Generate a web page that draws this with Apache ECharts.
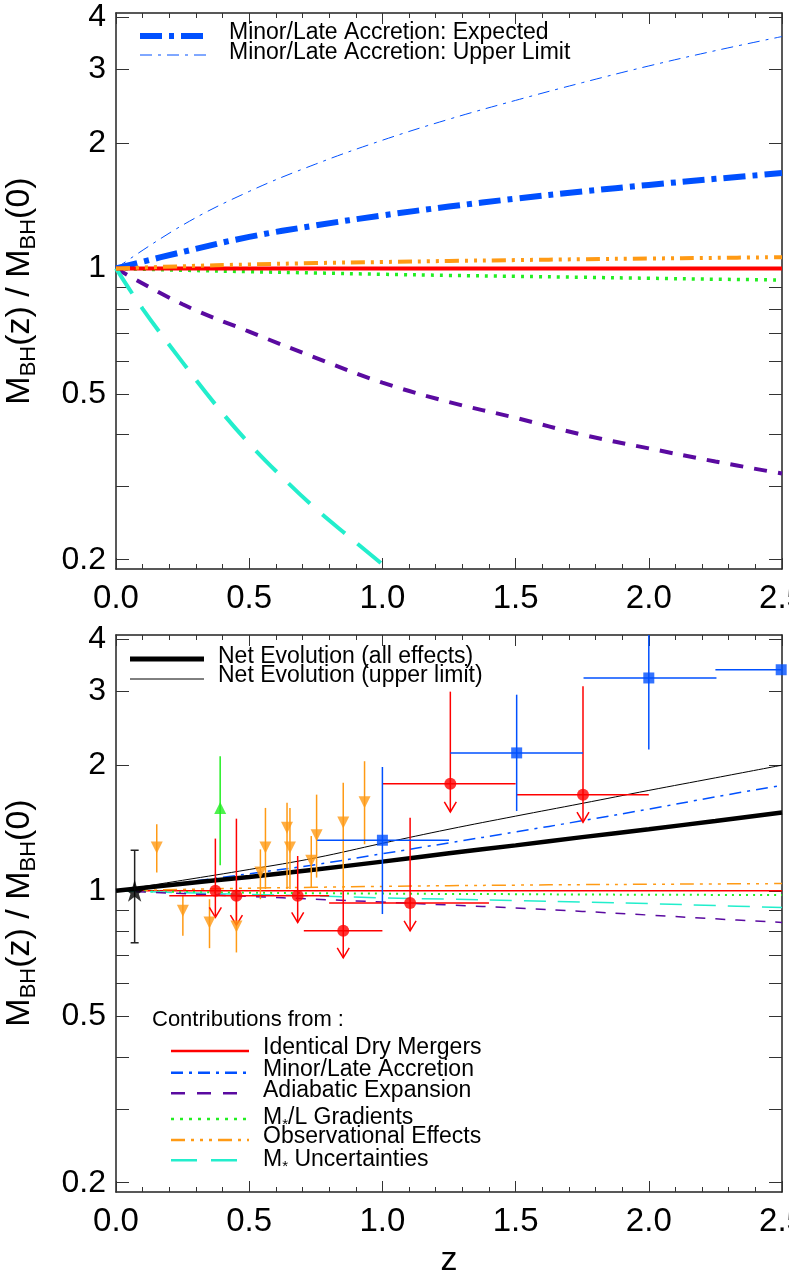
<!DOCTYPE html>
<html><head><meta charset="utf-8">
<script src="https://cdn.jsdelivr.net/npm/echarts@6/dist/echarts.min.js"></script>
<style>html,body{margin:0;padding:0;background:#fff;overflow:hidden}#c{width:789px;height:1285px}</style>
</head><body><div id="c"></div>
<script>
// ---------------- data ----------------
const zGrid = [0, 0.25, 0.5, 0.75, 1.0, 1.25, 1.5, 1.75, 2.0, 2.25, 2.5];
const zCyanTop = [0, 0.1, 0.25, 0.375, 0.5, 0.625, 0.75, 0.875, 1.0];

// top panel
const topExpected = [1.0, 1.095, 1.19, 1.268, 1.34, 1.407, 1.47, 1.529, 1.586, 1.64, 1.693];
const topUpper    = [1.0, 1.27, 1.53, 1.78, 2.03, 2.28, 2.53, 2.79, 3.06, 3.33, 3.60];
const topObs      = [1.0, 1.012, 1.022, 1.03, 1.036, 1.042, 1.047, 1.052, 1.056, 1.06, 1.064];
const topMerger   = [1.0, 1.0, 1.0, 1.0, 1.0, 1.0, 1.0, 1.0, 1.0, 1.0, 1.0];
const topGrad     = [1.0, 0.99, 0.982, 0.975, 0.968, 0.962, 0.957, 0.952, 0.947, 0.942, 0.938];
const topAdiab    = [1.0, 0.82, 0.705, 0.61, 0.532, 0.478, 0.438, 0.399, 0.37, 0.344, 0.322];
const topMstar    = [1.0, 0.80, 0.595, 0.47, 0.38, 0.315, 0.265, 0.227, 0.195];

// bottom panel
const netAll    = [1.0, 1.04, 1.08, 1.125, 1.175, 1.23, 1.285, 1.345, 1.405, 1.47, 1.54];
const netUpper  = [1.0, 1.06, 1.125, 1.20, 1.30, 1.405, 1.51, 1.62, 1.74, 1.865, 2.0];
const botMinor  = [1.0, 1.047, 1.099, 1.156, 1.227, 1.303, 1.384, 1.472, 1.57, 1.679, 1.79];
const botObs    = [1.0, 1.008, 1.015, 1.02, 1.025, 1.029, 1.032, 1.035, 1.037, 1.039, 1.041];
const botMerger = [1.0, 1.0, 1.0, 1.0, 1.0, 1.0, 1.0, 1.0, 1.0, 1.0, 1.0];
const botGrad   = [1.0, 0.994, 0.99, 0.987, 0.985, 0.983, 0.982, 0.98, 0.979, 0.978, 0.977];
const botAdiab  = [1.0, 0.985, 0.97, 0.955, 0.94, 0.925, 0.91, 0.893, 0.875, 0.857, 0.84];
const botMstar  = [1.0, 0.99, 0.98, 0.972, 0.962, 0.955, 0.948, 0.94, 0.932, 0.922, 0.912];

// observations
const orangeZ   = [0.153, 0.251, 0.351, 0.452, 0.542, 0.561, 0.642, 0.653, 0.733, 0.753, 0.853, 0.933];
const orangeVal = [1.27, 0.896, 0.84, 0.822, 1.106, 1.27, 1.417, 1.27, 1.18, 1.359, 1.457, 1.631];
const orangeHi  = [1.443, 0.973, 0.955, 1.01, 1.257, 1.58, 1.626, 1.58, 1.353, 1.70, 1.815, 2.044];
const orangeLo  = [1.106, 0.781, 0.729, 0.712, 0.955, 1.01, 1.01, 1.01, 1.019, 1.076, 1.0, 1.293];

const greenZ = [0.391], greenVal = [1.58], greenHi = [2.10], greenLo = [1.152];

const redZ   = [0.373, 0.452, 0.682, 0.853, 1.104, 1.255, 1.753];
const redVal = [1.0, 0.973, 0.973, 0.802, 0.935, 1.806, 1.70];
const redTop = [1.334, 1.489, 1.212, 1.0, 1.497, 3.0, 3.09];
const redTip = [0.864, 0.828, 0.84, 0.691, 0.802, 1.545, 1.46];
const redZlo = [null, 0.2, null, 0.705, 0.8, 1.0, 1.505];
const redZhi = [null, 0.8, null, 1.0, 1.4, 1.5, 2.0];

const blueZ   = [1.0, 1.504, 2.0, 2.497];
const blueVal = [1.322, 2.14, 3.235, 3.385];
const blueLo  = [0.88, 1.553, 2.18, null];
const blueHi  = [1.98, 2.95, 5.0, null];
const blueZlo = [0.755, 1.255, 1.755, 2.25];
const blueZhi = [1.25, 1.753, 2.254, 2.75];

const starZ = [0.07], starVal = [1.0], starLo = [0.751], starHi = [1.251];

// axis ticks
const yLabelValues = [0.2, 0.5, 1, 2, 3, 4];
const yLabelTexts  = ['0.2', '0.5', '1', '2', '3', '4'];
const yTickValues  = [0.2, 0.3, 0.4, 0.5, 0.6, 0.7, 0.8, 0.9, 1, 2, 3, 4];

// ---------------- styles ----------------
const FONT = "'Liberation Sans', Arial, Helvetica, sans-serif";
const BLUE = '#0050ff', RED = '#ff0000', PURPLE = '#5a0aa0', GREEN = '#22ee22', CYAN = '#22eecc', ORANGE = '#ff9a14';
const DASHDOT = [12, 6, 3, 6];
const DASH3DOT = [14, 6, 3, 6, 3, 6, 3, 6];

function zip(...cols) { return cols[0].map((_, i) => cols.map(c => c[i])); }

function xAx(gridIndex, pos, showLabel, name) {
  return {
    type: 'value', gridIndex, position: pos, min: 0, max: 2.5, interval: 0.5,
    axisLine: { show: true, onZero: false, lineStyle: { color: '#222', width: 1.5 } },
    axisTick: { show: true, inside: true, length: 11, lineStyle: { color: '#333', width: 1 } },
    minorTick: { show: true, splitNumber: 5, length: 5, lineStyle: { color: '#333', width: 1 } },
    splitLine: { show: false }, minorSplitLine: { show: false },
    axisLabel: { show: showLabel, fontSize: 33, fontFamily: FONT, color: '#000', margin: 13,
      formatter: v => Number(v).toFixed(1) },
    name: name || '', nameLocation: 'middle', nameGap: 52,
    nameTextStyle: { fontSize: 34, fontFamily: FONT, color: '#000' }
  };
}
function yAx(gridIndex, pos, showLabel) {
  return {
    type: 'log', logBase: 10, gridIndex, position: pos, min: 0.19, max: 4.1,
    axisLine: { show: true, onZero: false, lineStyle: { color: '#222', width: 1.5 } },
    axisTick: { show: true, inside: true, length: 13, customValues: yTickValues, lineStyle: { color: '#333', width: 1 } },
    minorTick: { show: false }, splitLine: { show: false },
    axisLabel: { show: showLabel, customValues: yLabelValues, fontSize: 32, fontFamily: FONT, color: '#000', margin: 10,
      formatter: v => { let best = 0; yLabelValues.forEach((t, i) => { if (Math.abs(Math.log(t / v)) < Math.abs(Math.log(yLabelValues[best] / v))) best = i; }); return yLabelTexts[best]; } }
  };
}

function lineS(name, xi, yi, xs, ys, color, width, type, z) {
  return { type: 'line', name, xAxisIndex: xi, yAxisIndex: yi, data: zip(xs, ys), smooth: 0.4,
    symbol: 'none', showSymbol: false, silent: true, z: z || 2,
    lineStyle: { color, width, type: type || 'solid', cap: 'butt' } };
}

function seg(a, b, color, w) {
  return { type: 'line', shape: { x1: a[0], y1: a[1], x2: b[0], y2: b[1] }, style: { stroke: color, lineWidth: w || 1.5 } };
}

const series = [
  // top panel
  lineS('Minor/Late Accretion: Upper Limit', 0, 0, zGrid, topUpper, BLUE, 1, DASHDOT),
  lineS('Minor/Late Accretion: Expected', 0, 0, zGrid, topExpected, BLUE, 6, [22, 7, 5, 7]),
  lineS('Adiabatic (top)', 0, 0, zGrid, topAdiab, PURPLE, 4, [13, 11]),
  lineS('Mstar unc (top)', 0, 0, zCyanTop, topMstar, CYAN, 4, [30, 16]),
  lineS('Gradients (top)', 0, 0, zGrid, topGrad, GREEN, 3.5, [3, 6]),
  lineS('Mergers (top)', 0, 0, zGrid, topMerger, RED, 4, 'solid'),
  lineS('Observational (top)', 0, 0, zGrid, topObs, ORANGE, 4, DASH3DOT),
  // bottom panel
  lineS('Identical Dry Mergers', 2, 2, zGrid, botMerger, RED, 1.5, 'solid'),
  lineS('Observational Effects', 2, 2, zGrid, botObs, ORANGE, 1.5, DASH3DOT),
  lineS('M* /L Gradients', 2, 2, zGrid, botGrad, GREEN, 2, [2, 5]),
  lineS('M* Uncertainties', 2, 2, zGrid, botMstar, CYAN, 1.5, [22, 12]),
  lineS('Adiabatic Expansion', 2, 2, zGrid, botAdiab, PURPLE, 1.5, [10, 10]),
  lineS('Minor/Late Accretion', 2, 2, zGrid, botMinor, BLUE, 1.5, DASHDOT, 3),
  lineS('Net Evolution (upper limit)', 2, 2, zGrid, netUpper, '#000', 1, 'solid', 3),
  lineS('Net Evolution (all effects)', 2, 2, zGrid, netAll, '#000', 4.5, 'solid', 3),
  // error bars
  { type: 'custom', name: 'orange err', xAxisIndex: 2, yAxisIndex: 2, clip: true, z: 4, silent: true,
    data: zip(orangeZ, orangeVal, orangeHi, orangeLo), encode: { x: 0, y: 1 },
    renderItem: (p, api) => seg(api.coord([api.value(0), api.value(2)]), api.coord([api.value(0), api.value(3)]), ORANGE, 1.5) },
  { type: 'custom', name: 'green err', xAxisIndex: 2, yAxisIndex: 2, clip: true, z: 4, silent: true,
    data: zip(greenZ, greenVal, greenHi, greenLo), encode: { x: 0, y: 1 },
    renderItem: (p, api) => seg(api.coord([api.value(0), api.value(2)]), api.coord([api.value(0), api.value(3)]), GREEN, 1.5) },
  { type: 'custom', name: 'red err', xAxisIndex: 2, yAxisIndex: 2, clip: true, z: 4, silent: true,
    data: zip(redZ, redVal, redTop, redTip, redZlo, redZhi), encode: { x: 0, y: 1 },
    renderItem: (p, api) => {
      const z = api.value(0), v = api.value(1);
      const pt = api.coord([z, api.value(2)]), tip = api.coord([z, api.value(3)]);
      const ch = [seg(pt, tip, RED, 1.5),
        { type: 'polyline', shape: { points: [[tip[0] - 6, tip[1] - 10], [tip[0], tip[1]], [tip[0] + 6, tip[1] - 10]] },
          style: { stroke: RED, lineWidth: 1.5, fill: 'none' } }];
      const zl = api.value(4), zh = api.value(5);
      if (isFinite(zl) && isFinite(zh)) ch.push(seg(api.coord([zl, v]), api.coord([zh, v]), RED, 1.5));
      return { type: 'group', children: ch };
    } },
  { type: 'custom', name: 'blue err', xAxisIndex: 2, yAxisIndex: 2, clip: true, z: 4, silent: true,
    data: zip(blueZ, blueVal, blueLo, blueHi, blueZlo, blueZhi), encode: { x: 0, y: 1 },
    renderItem: (p, api) => {
      const z = api.value(0), v = api.value(1);
      const ch = [];
      const lo = api.value(2), hi = api.value(3);
      if (isFinite(lo) && isFinite(hi)) ch.push(seg(api.coord([z, lo]), api.coord([z, hi]), BLUE, 1.5));
      ch.push(seg(api.coord([api.value(4), v]), api.coord([api.value(5), v]), BLUE, 1.5));
      return { type: 'group', children: ch };
    } },
  { type: 'custom', name: 'star err', xAxisIndex: 2, yAxisIndex: 2, clip: true, z: 4, silent: true,
    data: zip(starZ, starVal, starLo, starHi), encode: { x: 0, y: 1 },
    renderItem: (p, api) => {
      const a = api.coord([api.value(0), api.value(2)]), b = api.coord([api.value(0), api.value(3)]);
      return { type: 'group', children: [seg(a, b, '#222', 1.5),
        seg([a[0] - 4, a[1]], [a[0] + 4, a[1]], '#222', 1.5), seg([b[0] - 4, b[1]], [b[0] + 4, b[1]], '#222', 1.5)] };
    } },
  // markers
  { type: 'scatter', name: 'orange pts', xAxisIndex: 2, yAxisIndex: 2, z: 6, silent: true, data: zip(orangeZ, orangeVal),
    symbol: 'triangle', symbolRotate: 180, symbolSize: [12, 12], itemStyle: { color: ORANGE } },
  { type: 'scatter', name: 'green pts', xAxisIndex: 2, yAxisIndex: 2, z: 6, silent: true, data: zip(greenZ, greenVal),
    symbol: 'triangle', symbolSize: [12, 12], itemStyle: { color: GREEN } },
  { type: 'scatter', name: 'red pts', xAxisIndex: 2, yAxisIndex: 2, z: 6, silent: true, data: zip(redZ, redVal),
    symbol: 'circle', symbolSize: 12, itemStyle: { color: RED } },
  { type: 'scatter', name: 'blue pts', xAxisIndex: 2, yAxisIndex: 2, z: 6, silent: true, data: zip(blueZ, blueVal),
    symbol: 'rect', symbolSize: 11, itemStyle: { color: BLUE } },
  { type: 'scatter', name: 'star pt', xAxisIndex: 2, yAxisIndex: 2, z: 6, silent: true, data: zip(starZ, starVal),
    symbol: 'path://M50,0 L61,35 L98,35 L68,57 L79,91 L50,70 L21,91 L32,57 L2,35 L39,35 Z', symbolSize: 22, itemStyle: { color: '#000' } }
];

// ---------------- legends / titles (graphic) ----------------
const richMain = (fs) => ({
  m: { fontSize: fs, fontFamily: FONT, fill: '#000', lineHeight: fs + 6 },
  s: { fontSize: Math.round(fs * 0.66), fontFamily: FONT, fill: '#000', lineHeight: Math.round(fs * 0.55), verticalAlign: 'bottom' }
});
function gText(x, y, text, fs, rich, rotation) {
  return { type: 'text', x, y, rotation: rotation || 0, z: 100, silent: true,
    style: { text, fontSize: fs, fontFamily: FONT, fill: '#000', align: rotation ? 'center' : 'left', verticalAlign: 'middle', rich: rich } };
}
function gLine(x1, x2, y, color, w, dash) {
  return { type: 'line', z: 100, silent: true, shape: { x1, y1: y, x2, y2: y },
    style: { stroke: color, lineWidth: w, lineDash: dash || null } };
}
const yTitle = '{m|M}{s|BH}{m|(z) / M}{s|BH}{m|(0)}';
const graphic = [
  gText(20, 291, yTitle, 34, richMain(34), Math.PI / 2),
  gText(20, 913, yTitle, 34, richMain(34), Math.PI / 2),
  // top legend
  gLine(140, 210, 36, BLUE, 6, [22, 7, 5, 7]),
  gText(229, 33, 'Minor/Late Accretion: Expected', 23),
  gLine(140, 210, 55, BLUE, 1, DASHDOT),
  gText(229, 53, 'Minor/Late Accretion: Upper Limit', 23),
  // bottom legend
  gLine(130, 204, 659, '#000', 5),
  gText(218, 657, 'Net Evolution (all effects)', 23),
  gLine(130, 204, 679, '#000', 1),
  gText(218, 676, 'Net Evolution (upper limit)', 23),
  gText(152, 1020, 'Contributions from :', 22),
  gLine(171, 249, 1051, RED, 2.5),
  gText(263, 1048, 'Identical Dry Mergers', 23),
  gLine(171, 249, 1072.7, BLUE, 2.5, DASHDOT),
  gText(263, 1070, 'Minor/Late Accretion', 23),
  gLine(171, 249, 1093.3, PURPLE, 2.5, [14, 12]),
  gText(263, 1091, 'Adiabatic Expansion', 23),
  gLine(171, 249, 1119, GREEN, 2.5, [3, 6]),
  gText(263, 1118, '{m|M}{s|*}{m|/L Gradients}', 23, richMain(23)),
  gLine(171, 249, 1140, ORANGE, 2.5, DASH3DOT),
  gText(263, 1137, 'Observational Effects', 23),
  gLine(171, 249, 1160.3, CYAN, 2.5, [26, 14]),
  gText(263, 1160, '{m|M}{s|*}{m| Uncertainties}', 23, richMain(23))
];

const option = {
  animation: false,
  backgroundColor: '#fff',
  grid: [
    { left: 116, top: 13, width: 666, height: 556, containLabel: false, outerBoundsMode: 'none' },
    { left: 116, top: 635, width: 666, height: 557, containLabel: false, outerBoundsMode: 'none' }
  ],
  xAxis: [xAx(0, 'bottom', true), xAx(0, 'top', false), xAx(1, 'bottom', true, 'z'), xAx(1, 'top', false)],
  yAxis: [yAx(0, 'left', true), yAx(0, 'right', false), yAx(1, 'left', true), yAx(1, 'right', false)],
  series,
  graphic
};
const chart = echarts.init(document.getElementById('c'), null, { renderer: 'canvas' });
chart.setOption(option);
</script></body></html>
